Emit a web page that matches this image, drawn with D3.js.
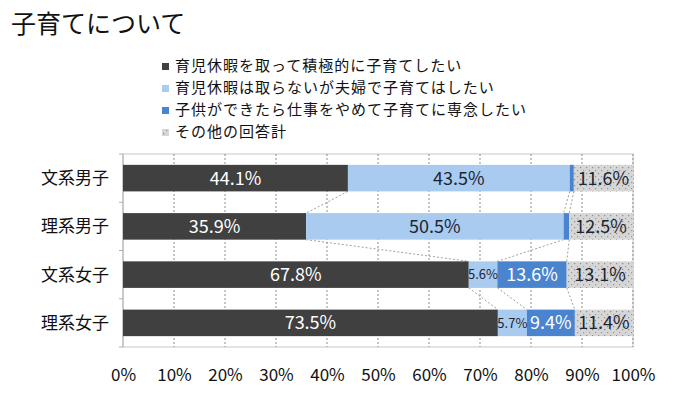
<!DOCTYPE html>
<html>
<head>
<meta charset="utf-8">
<script src="https://cdn.jsdelivr.net/npm/d3@7"></script>
<style>
  body { margin: 0; background: #fff; }
  svg text { font-family: "Noto Sans CJK JP", sans-serif; }
</style>
</head>
<body>
<div id="chart-area"></div>
<script>
const WIDTH = 700, HEIGHT = 395
const MARGIN = { LEFT: 123, RIGHT: 67, TOP: 154, BOTTOM: 48 }

const categories = ["文系男子", "理系男子", "文系女子", "理系女子"]
const seriesNames = [
  "育児休暇を取って積極的に子育てしたい",
  "育児休暇は取らないが夫婦で子育てはしたい",
  "子供ができたら仕事をやめて子育てに専念したい",
  "その他の回答計"
]
// values per series, in category order (%)
const takeLeave = [44.1, 35.9, 67.8, 73.5]
const noLeave = [43.5, 50.5, 5.6, 5.7]
const quitJob = [0.8, 1.1, 13.6, 9.4]
const other = [11.6, 12.5, 13.1, 11.4]
const tickLabels = ["0%", "10%", "20%", "30%", "40%", "50%", "60%", "70%", "80%", "90%", "100%"]

const seriesValues = [takeLeave, noLeave, quitJob, other]
const colors = ["#404040", "#a9cbef", "#4a84cf", "url(#dots)"]
const labelColors = ["#ffffff", "#1c2533", "#ffffff", "#1c2533"]

const svg = d3.select("#chart-area")
  .append("svg")
    .attr("width", WIDTH)
    .attr("height", HEIGHT)

// dotted fill for "other"
const pat = svg.append("defs").append("pattern")
  .attr("id", "dots")
  .attr("patternUnits", "userSpaceOnUse")
  .attr("width", 6).attr("height", 6)
pat.append("rect").attr("width", 6).attr("height", 6).attr("fill", "#d6d6d6")
pat.append("rect").attr("x", 1).attr("y", 1).attr("width", 1.2).attr("height", 1.2).attr("fill", "#8a8a8a")
pat.append("rect").attr("x", 4).attr("y", 4).attr("width", 1.2).attr("height", 1.2).attr("fill", "#9a9a9a")

// title
svg.append("text")
  .attr("x", 11)
  .attr("y", 33)
  .attr("font-size", "25px")
  .attr("fill", "#111")
  .text("子育てについて")

// legend
const legend = svg.append("g").attr("transform", "translate(162, 66)")
seriesNames.forEach((name, i) => {
  legend.append("rect")
    .attr("x", 0)
    .attr("y", i * 22 - 3)
    .attr("width", 7)
    .attr("height", 7)
    .attr("fill", colors[i])
  legend.append("text")
    .attr("x", 13)
    .attr("y", i * 22)
    .attr("dy", "0.35em")
    .attr("font-size", "15px")
    .attr("letter-spacing", "1px")
    .attr("fill", "#111")
    .text(name)
})

const w = WIDTH - MARGIN.LEFT - MARGIN.RIGHT
const h = HEIGHT - MARGIN.TOP - MARGIN.BOTTOM
const g = svg.append("g")
  .attr("transform", `translate(${MARGIN.LEFT}, ${MARGIN.TOP})`)

const x = d3.scaleLinear().domain([0, 100]).range([0, w])
const y = d3.scaleBand()
  .domain(categories)
  .range([0, h])
  .paddingInner(0.45)
  .paddingOuter(0.225)

// plot frame
g.append("rect")
  .attr("width", w).attr("height", h)
  .attr("fill", "none")
  .attr("stroke", "#c8c8c8")

// dashed gridlines
g.append("g")
  .selectAll("line")
  .data(d3.range(10, 101, 10))
  .enter().append("line")
    .attr("x1", d => x(d)).attr("x2", d => x(d))
    .attr("y1", 0).attr("y2", h)
    .attr("stroke", "#8c8c8c")
    .attr("stroke-dasharray", "2,2")

// left axis with ticks between categories
g.append("line")
  .attr("x1", 0).attr("x2", 0).attr("y1", 0).attr("y2", h)
  .attr("stroke", "#b0b0b0")
const step = y.step()
g.append("g")
  .selectAll("line")
  .data(d3.range(0, categories.length + 1))
  .enter().append("line")
    .attr("x1", -4).attr("x2", 0)
    .attr("y1", d => y(categories[0]) - step * y.paddingInner() / 2 + d * step)
    .attr("y2", d => y(categories[0]) - step * y.paddingInner() / 2 + d * step)
    .attr("stroke", "#b0b0b0")

// stacked data
const rows = categories.map((c, ci) => {
  let acc = 0
  return seriesValues.map((vals, si) => {
    const seg = { cat: c, series: si, x0: acc, x1: acc + vals[ci], v: vals[ci] }
    acc += vals[ci]
    return seg
  })
})

// series lines between bars
for (let ci = 0; ci < categories.length - 1; ci++) {
  for (let si = 0; si < seriesValues.length - 1; si++) {
    g.append("line")
      .attr("x1", x(rows[ci][si].x1))
      .attr("y1", y(categories[ci]) + y.bandwidth())
      .attr("x2", x(rows[ci + 1][si].x1))
      .attr("y2", y(categories[ci + 1]))
      .attr("stroke", "#a0a0a0")
      .attr("stroke-dasharray", "2,2")
  }
}

// bars
const segs = rows.flat()
g.append("g")
  .selectAll("rect")
  .data(segs)
  .enter().append("rect")
    .attr("x", d => x(d.x0))
    .attr("y", d => y(d.cat))
    .attr("width", d => x(d.x1) - x(d.x0))
    .attr("height", y.bandwidth())
    .attr("fill", d => colors[d.series])

// data labels
g.append("g")
  .selectAll("text")
  .data(segs.filter(d => d.v >= 2))
  .enter().append("text")
    .attr("x", d => x((d.x0 + d.x1) / 2))
    .attr("y", d => y(d.cat) + y.bandwidth() / 2)
    .attr("dy", "0.36em")
    .attr("text-anchor", "middle")
    .attr("font-family", "Lato, 'Open Sans', sans-serif")
    .attr("font-size", d => d.v < 8 ? "13px" : "18px")
    .attr("fill", d => labelColors[d.series])
    .text(d => d.v.toFixed(1) + "%")

// category labels
g.append("g")
  .selectAll("text")
  .data(categories)
  .enter().append("text")
    .attr("x", -14)
    .attr("y", d => y(d) + y.bandwidth() / 2)
    .attr("dy", "0.35em")
    .attr("text-anchor", "end")
    .attr("font-size", "17px")
    .attr("fill", "#111")
    .text(d => d)

// x axis
const xAxis = g.append("g")
  .attr("transform", `translate(0, ${h})`)
  .call(d3.axisBottom(x)
    .tickValues(d3.range(0, 101, 10))
    .tickSize(0)
    .tickPadding(22)
    .tickFormat((d, i) => tickLabels[i]))
xAxis.select(".domain").remove()
xAxis.selectAll("text")
  .attr("font-family", "Lato, 'Open Sans', sans-serif")
  .attr("font-size", "17px")
  .attr("fill", "#111")
</script>
</body>
</html>
